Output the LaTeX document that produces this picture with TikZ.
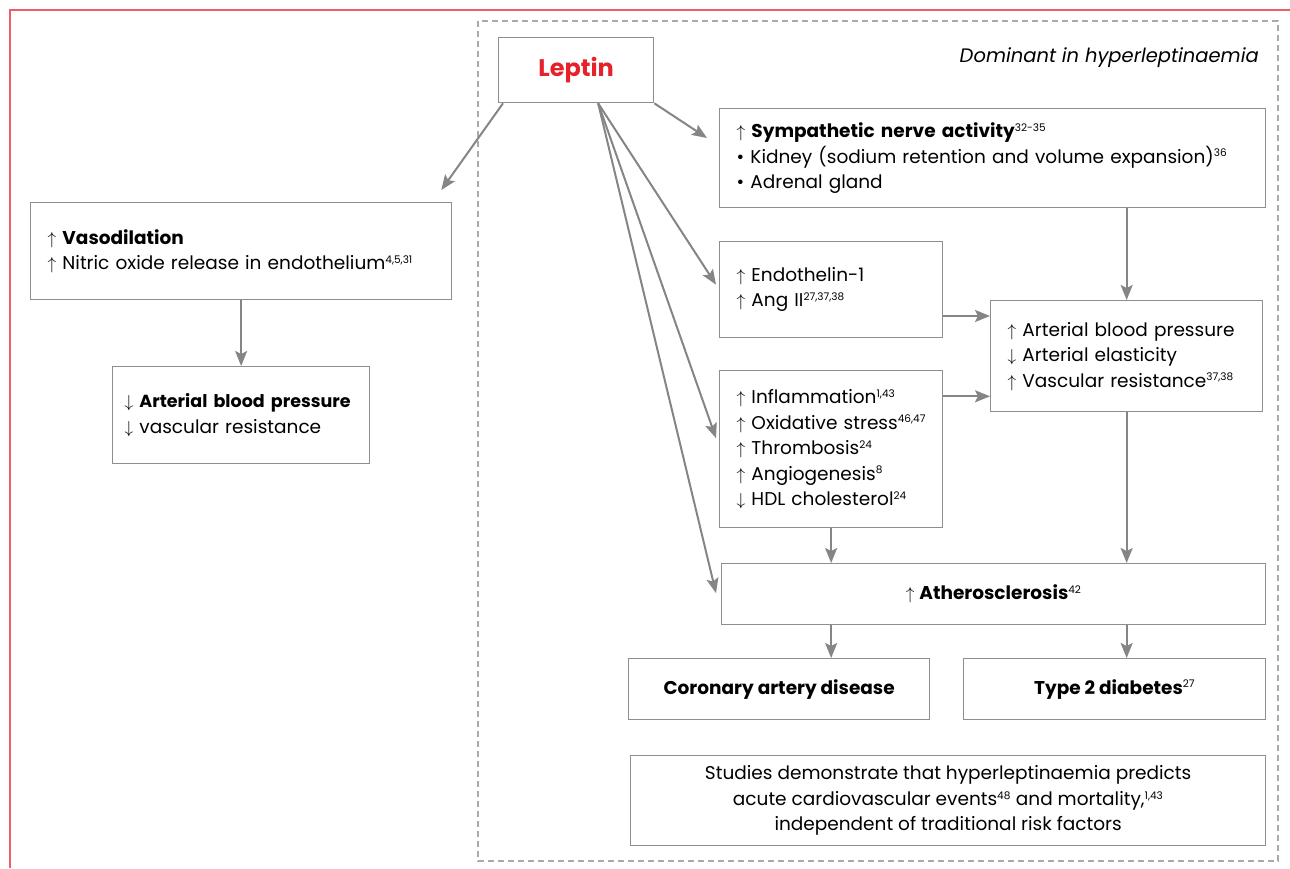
\documentclass[tikz,border=0pt]{standalone}
\usepackage{fontspec}
\setmainfont{Poppins}
\usetikzlibrary{arrows.meta,calc}
\definecolor{framered}{HTML}{EE5D68}
\definecolor{boxgray}{HTML}{8E8E8E}
\definecolor{arrowgray}{HTML}{858585}
\definecolor{dashgray}{HTML}{AAAAAA}
\definecolor{leptinred}{HTML}{E62129}
\newcommand{\supref}[1]{\textsuperscript{\normalfont\fontsize{10.5}{11}\selectfont #1}}
\begin{document}
\begin{tikzpicture}[x=1pt,y=-1pt,
box/.style={draw=boxgray,line width=1.3pt,anchor=north west,inner xsep=17pt,inner ysep=0pt,font=\fontsize{18.5}{25.5}\selectfont},
lbox/.style={box,align=left},
cbox/.style={box,align=center},
arr/.style={draw=arrowgray,line width=2pt,-{Stealth[length=15pt,width=12pt,inset=3pt]}}]
	\useasboundingbox (0,0) rectangle (1290,868);
	\draw[framered,line width=1.5pt] (10,868) -- (10,10) -- (1290,10);
	\draw[dashgray,line width=1.2pt,dash pattern=on 6pt off 4pt] (478,21) rectangle (1278,861);
	\node[anchor=east,inner sep=0pt,font=\fontsize{19.5}{22}\selectfont\itshape] (dom) at (1259,58) {Dominant in hyperleptinaemia};
	\node[cbox,minimum width=155pt,minimum height=65pt,font=\fontsize{24}{28}\selectfont\bfseries,text=leptinred] (lep) at (498,37) {Leptin};
	\node[lbox,text width=512pt,minimum height=99pt] (symp) at (719,108) {$\uparrow$ \textbf{Sympathetic nerve activity}\supref{32-35}\\
		\textbullet\ Kidney (sodium retention and volume expansion)\supref{36}\\
		\textbullet\ Adrenal gland};
	\node[lbox,text width=387pt,minimum height=97pt] (vaso) at (30,202) {$\uparrow$ \textbf{Vasodilation}\\
		$\uparrow$ Nitric oxide release in endothelium\supref{4,5,31}};
	\node[lbox,inner xsep=12pt,text width=233pt,minimum height=97pt] (abp) at (112,366) {$\downarrow$ {\fontsize{17.5}{25.5}\selectfont\bfseries Arterial blood pressure}\\
		$\downarrow$ vascular resistance};
	\node[lbox,text width=189pt,minimum height=96pt] (endo) at (719,241) {$\uparrow$ Endothelin-1\\
		$\uparrow$ Ang II\supref{27,37,38}};
	\node[lbox,text width=238pt,minimum height=111pt] (art) at (990,300) {$\uparrow$ Arterial blood pressure\\
		$\downarrow$ Arterial elasticity\\
		$\uparrow$ Vascular resistance\supref{37,38}};
	\node[lbox,text width=189pt,minimum height=157pt] (infl) at (719,370) {$\uparrow$ Inflammation\supref{1,43}\\
		\mbox{$\uparrow$ Oxidative stress\supref{46,47}}\\
		$\uparrow$ Thrombosis\supref{24}\\
		$\uparrow$ Angiogenesis\supref{8}\\
		$\downarrow$ HDL cholesterol\supref{24}};
	\node[cbox,minimum width=544pt,minimum height=61pt] (ath) at (721,563) {$\uparrow$ \textbf{Atherosclerosis}\supref{42}};
	\node[cbox,minimum width=301pt,minimum height=61pt,font=\fontsize{18.5}{25.5}\selectfont\bfseries] (cad) at (628,658) {Coronary artery disease};
	\node[cbox,minimum width=302pt,minimum height=61pt,font=\fontsize{18.5}{25.5}\selectfont\bfseries] (dia) at (963,658) {Type 2 diabetes\supref{27}};
	\node[cbox,minimum width=635pt,minimum height=90pt] (stud) at (630,755) {Studies demonstrate that hyperleptinaemia predicts\\
		acute cardiovascular events\supref{48} and mortality,\supref{1,43}\\
		independent of traditional risk factors};
	% Leptin
	\draw[arr] ($(lep.south west)+(5,0)$) -- ($(vaso.north east)+(-11,-12)$);
	\draw[arr] (lep.south east) -- ($(symp.north west)+(-12,30)$);
	\draw[arr] ($(lep.south)+(22,0)$) -- ($(endo.west)+(-3,-5)$);
	\draw[arr] ($(lep.south)+(22,0)$) -- ($(infl.west)+(-3,-11)$);
	\draw[arr] ($(lep.south)+(22,0)$) -- ($(ath.west)+(-5,-1)$);
	% pressure
	\coordinate (a1) at ($(art.north west)+(0,16)$);
	\coordinate (a2) at ($(art.south west)+(0,-16)$);
	\draw[arr] (art.north |- symp.south) -- (art.north);
	\draw[arr] (a1 -| endo.east) -- (a1);
	\draw[arr] (a2 -| infl.east) -- (a2);
	\draw[arr] (art.south) -- (art.south |- ath.north);
	\draw[arr] (infl.south) -- (infl.south |- ath.north);
	\draw[arr] (infl.south |- ath.south) -- (infl.south |- cad.north);
	\draw[arr] (art.south |- ath.south) -- (art.south |- dia.north);
	\draw[arr] (abp.north |- vaso.south) -- (abp.north);
\end{tikzpicture}
\end{document}
